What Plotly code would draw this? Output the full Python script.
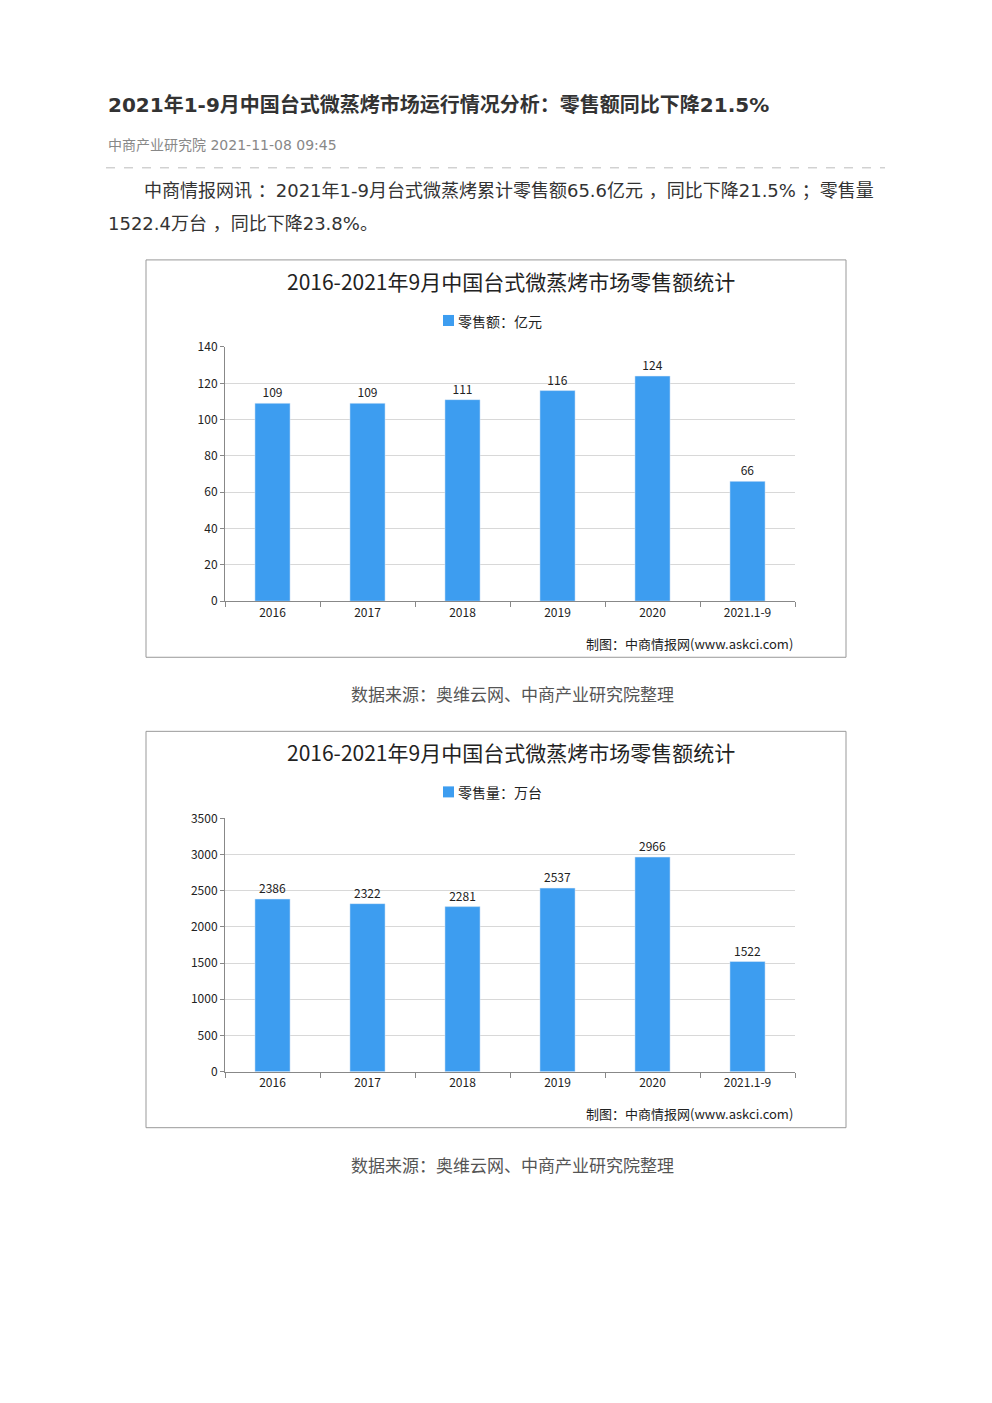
import plotly.graph_objects as go
from plotly.subplots import make_subplots

W, H = 992, 1403
FONT = "Noto Sans CJK SC"
PAGE_FONT = "DejaVu Sans, Noto Sans CJK SC"
BLUE = "#3d9df0"

years = ["2016", "2017", "2018", "2019", "2020", "2021.1-9"]
sales_value = [109, 109, 111, 116, 124, 66]        # 亿元
sales_volume = [2386, 2322, 2281, 2537, 2966, 1522]  # 万台

def py(px):
    # compensate for page offset/scale seen in the screenshot
    return 1 - ((px - 18.3) / 0.987) / H

def pxx(px):
    return (px - 8) / W

fig = make_subplots(rows=2, cols=1)

fig.add_trace(go.Bar(x=years, y=sales_value, text=sales_value, textposition="outside",
                     marker_color=BLUE, textfont=dict(size=12, color="#222", family=FONT),
                     cliponaxis=False, showlegend=False), row=1, col=1)
fig.add_trace(go.Bar(x=years, y=sales_volume, text=sales_volume, textposition="outside",
                     marker_color=BLUE, textfont=dict(size=12, color="#222", family=FONT),
                     cliponaxis=False, showlegend=False), row=2, col=1)

axx = dict(tickson="boundaries", ticks="outside", ticklen=5, tickcolor="#888",
           showline=True, linecolor="#888", showgrid=False,
           tickfont=dict(size=12, color="#222", family=FONT))
axy = dict(showline=True, linecolor="#888", ticks="outside", ticklen=4, tickcolor="#888",
           gridcolor="#d8d8d8", zeroline=False,
           tickfont=dict(size=12, color="#222", family=FONT))

fig.update_xaxes(domain=[pxx(225), pxx(795)], **axx)
fig.update_yaxes(**axy)
fig.update_yaxes(domain=[py(601), py(347)], range=[0, 140], dtick=20, row=1, col=1)
fig.update_yaxes(domain=[py(1071), py(818)], range=[0, 3500], dtick=500, row=2, col=1)

shapes = [
    dict(type="line", xref="paper", yref="paper", x0=pxx(106), x1=pxx(885),
         y0=py(168), y1=py(168), line=dict(color="#bbb", width=1, dash="dash")),
]
ann = [
    dict(text="<b>2021年1-9月中国台式微蒸烤市场运行情况分析：零售额同比下降21.5%</b>",
         x=pxx(106), y=py(105), font=dict(size=20, color="#333", family=PAGE_FONT)),
    dict(text="中商产业研究院 2021-11-08 09:45", x=pxx(106), y=py(145),
         font=dict(size=14, color="#888", family=PAGE_FONT)),
    dict(text="　　中商情报网讯 ：2021年1-9月台式微蒸烤累计零售额65.6亿元 ，同比下降21.5% ；零售量",
         x=pxx(106), y=py(191), font=dict(size=18, color="#333", family=PAGE_FONT)),
    dict(text="1522.4万台 ，同比下降23.8%。", x=pxx(106), y=py(224),
         font=dict(size=18, color="#333", family=PAGE_FONT)),
]

charts = [
    (260, 657, "零售额：亿元"),
    (731, 1127, "零售量：万台"),
]
for top, bot, leg in charts:
    shapes.append(dict(type="rect", xref="paper", yref="paper", x0=pxx(146), x1=pxx(846),
                       y0=py(bot), y1=py(top), line=dict(color="#999", width=1)))
    shapes.append(dict(type="rect", xref="paper", yref="paper", x0=pxx(443), x1=pxx(454),
                       y0=py(top + 66), y1=py(top + 55), fillcolor=BLUE, line_width=0))
    ann.append(dict(text="2016-2021年9月中国台式微蒸烤市场零售额统计", x=pxx(511), xanchor="center",
                    y=py(top + 21), font=dict(size=21, color="#222")))
    ann.append(dict(text=leg, x=pxx(456), y=py(top + 61), font=dict(size=14, color="#222")))
    ann.append(dict(text="制图：中商情报网(www.askci.com)", x=pxx(795), xanchor="right",
                    y=py(bot - 14), font=dict(size=13, color="#222")))
    ann.append(dict(text="数据来源：奥维云网、中商产业研究院整理", x=pxx(513), xanchor="center",
                    y=py(bot + 38), font=dict(size=17, color="#555", family=PAGE_FONT)))

for a in ann:
    a.setdefault("xanchor", "left")
    a.update(xref="paper", yref="paper", yanchor="middle", showarrow=False)

fig.update_layout(width=W, height=H, margin=dict(l=0, r=0, t=0, b=0),
                  paper_bgcolor="white", plot_bgcolor="white", bargap=0.63,
                  font=dict(family=FONT), shapes=shapes, annotations=ann)
fig.write_html("out.html")
